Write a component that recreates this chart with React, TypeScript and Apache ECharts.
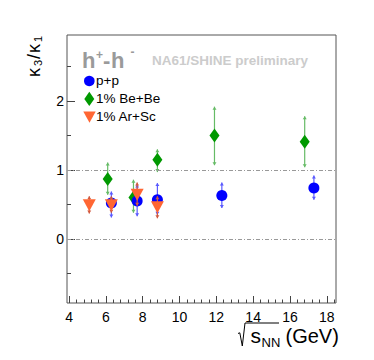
import React, { useEffect, useRef } from "react";
import * as echarts from "echarts";

// ---- data ----
const ppX = [6.3, 7.7, 8.8, 12.3, 17.3];
const ppY = [0.52, 0.55, 0.57, 0.63, 0.74];
const ppLo = [0.31, 0.33, 0.35, 0.45, 0.57];
const ppHi = [0.69, 0.79, 0.81, 0.82, 0.92];

const beX = [6.1, 7.5, 8.8, 11.9, 16.8];
const beY = [0.87, 0.6, 1.15, 1.5, 1.41];
const beLo = [0.64, 0.38, 0.97, 1.07, 1.04];
const beHi = [1.11, 0.86, 1.3, 1.92, 1.78];

const arX = [5.1, 6.3, 7.7, 8.8];
const arY = [0.49, 0.49, 0.64, 0.46];
const arLo = [0.37, 0.38, 0.48, 0.3];
const arHi = [0.62, 0.62, 0.82, 0.62];

const xMajorTicks = [4, 6, 8, 10, 12, 14, 16, 18];
const xMinorTicks = [
  4.4, 4.8, 5.2, 5.6, 6.4, 6.8, 7.2, 7.6, 8.4, 8.8, 9.2, 9.6, 10.4, 10.8, 11.2, 11.6,
  12.4, 12.8, 13.2, 13.6, 14.4, 14.8, 15.2, 15.6, 16.4, 16.8, 17.2, 17.6, 18.4,
];
const yMajorTicks = [0, 1, 2];
const yMinorTicks = [-0.5, 0.5, 1.5, 2.5];
const refLines = [0, 1];

const X_MIN = 3.89;
const X_MAX = 18.5;
const Y_MIN = -0.93;
const Y_MAX = 2.96;

const FONT = "Liberation Sans, Arial, Helvetica, sans-serif";
const BLUE = "#0000ff";
const GREEN = "#009900";
const ORANGE = "#ff6633";

function errBars(xs: number[], lo: number[], hi: number[], color: string, z: number) {
  return {
    type: "custom",
    z,
    xAxisIndex: 0,
    yAxisIndex: 0,
    silent: true,
    data: xs.map((x, i) => [x, lo[i], hi[i]]),
    encode: { x: 0, y: [1, 2] },
    renderItem: (_p: any, api: any) => {
      const x = api.value(0);
      const top = api.coord([x, api.value(2)]);
      const bot = api.coord([x, api.value(1)]);
      return {
        type: "group",
        children: [
          {
            type: "line",
            shape: { x1: top[0], y1: top[1], x2: bot[0], y2: bot[1] },
            style: { stroke: color, lineWidth: 1.2 },
          },
          {
            type: "polygon",
            shape: { points: [[top[0] - 2, top[1] + 3], [top[0] + 2, top[1] + 3], [top[0], top[1]]] },
            style: { fill: color },
          },
          {
            type: "polygon",
            shape: { points: [[bot[0] - 2, bot[1] - 3], [bot[0] + 2, bot[1] - 3], [bot[0], bot[1]]] },
            style: { fill: color },
          },
        ],
      };
    },
  };
}

function scatter(name: string, xs: number[], ys: number[], symbol: string, size: any, color: string, z: number, rotate = 0) {
  return {
    name,
    type: "scatter",
    z,
    xAxisIndex: 0,
    yAxisIndex: 0,
    symbol,
    symbolSize: size,
    symbolRotate: rotate,
    itemStyle: { color, opacity: 1 },
    data: xs.map((x, i) => [x, ys[i]]),
  };
}

export default function App() {
  const ref = useRef<HTMLDivElement>(null);
  useEffect(() => {
    document.body.style.margin = "0";
    const chart = echarts.init(ref.current!, null, { renderer: "svg" });
    const grey = "#9a9a9a";
    const tickColor = "#444";
    const option: any = {
      animation: false,
      backgroundColor: "#ffffff",
      grid: {
        left: 67,
        right: 38,
        top: 35,
        bottom: 57,
        show: true,
        borderColor: "#555",
        borderWidth: 1,
        backgroundColor: "transparent",
      },
      xAxis: [
        {
          type: "value",
          position: "bottom",
          min: X_MIN,
          max: X_MAX,
          axisLine: { show: false, onZero: false },
          splitLine: { show: false },
          axisTick: { show: true, inside: true, length: 7, customValues: xMajorTicks, lineStyle: { color: tickColor } },
          axisLabel: { customValues: xMajorTicks, fontSize: 14, color: "#000", margin: 7, fontFamily: FONT },
        },
        {
          type: "value",
          position: "bottom",
          min: X_MIN,
          max: X_MAX,
          axisLine: { show: false, onZero: false },
          splitLine: { show: false },
          axisTick: { show: true, inside: true, length: 3.5, customValues: xMinorTicks, lineStyle: { color: tickColor } },
          axisLabel: { show: false },
        },
      ],
      yAxis: [
        {
          type: "value",
          position: "left",
          min: Y_MIN,
          max: Y_MAX,
          axisLine: { show: false, onZero: false },
          splitLine: { show: false },
          axisTick: { show: true, inside: true, length: 8, customValues: yMajorTicks, lineStyle: { color: tickColor } },
          axisLabel: { customValues: yMajorTicks, fontSize: 14, color: "#000", margin: 3, fontFamily: FONT },
        },
        {
          type: "value",
          position: "left",
          min: Y_MIN,
          max: Y_MAX,
          axisLine: { show: false, onZero: false },
          splitLine: { show: false },
          axisTick: { show: true, inside: true, length: 4, customValues: yMinorTicks, lineStyle: { color: tickColor } },
          axisLabel: { show: false },
        },
      ],
      series: [
        {
          type: "line",
          data: [],
          xAxisIndex: 0,
          yAxisIndex: 0,
          z: 1,
          markLine: {
            silent: true,
            symbol: "none",
            label: { show: false },
            lineStyle: { color: "#999", width: 1, type: [4, 2, 1, 2] },
            data: refLines.map((v) => ({ yAxis: v })),
          },
        },
        errBars(beX, beLo, beHi, "#66bb66", 2),
        scatter("1% Be+Be", beX, beY, "diamond", [10, 14], GREEN, 3),
        errBars(ppX, ppLo, ppHi, "#5a5aff", 4),
        scatter("p+p", ppX, ppY, "circle", 11, BLUE, 5),
        errBars(arX, arLo, arHi, "#d05a40", 6),
        scatter("1% Ar+Sc", arX, arY, "triangle", [13, 12], ORANGE, 7, 180),
      ],
      graphic: [
        // title h+-h-
        { type: "text", x: 82, y: 60.6, style: { text: "h", fontSize: 22, fontWeight: "bold", fill: grey, fontFamily: FONT, verticalAlign: "middle" } },
        { type: "text", x: 96, y: 54.5, style: { text: "+", fontSize: 12, fontWeight: "bold", fill: grey, fontFamily: FONT, verticalAlign: "middle" } },
        { type: "text", x: 103, y: 60.6, style: { text: "-", fontSize: 22, fontWeight: "bold", fill: grey, fontFamily: FONT, verticalAlign: "middle" } },
        { type: "text", x: 111, y: 60.6, style: { text: "h", fontSize: 22, fontWeight: "bold", fill: grey, fontFamily: FONT, verticalAlign: "middle" } },
        { type: "text", x: 130.5, y: 52, style: { text: "-", fontSize: 12, fontWeight: "bold", fill: grey, fontFamily: FONT, verticalAlign: "middle" } },
        { type: "text", x: 152, y: 60.5, style: { text: "NA61/SHINE preliminary", fontSize: 13.5, fontWeight: "bold", fill: "#cccccc", fontFamily: FONT, verticalAlign: "middle" } },
        // legend
        { type: "circle", shape: { cx: 89.3, cy: 81, r: 5.3 }, style: { fill: BLUE } },
        { type: "text", x: 96, y: 80.5, style: { text: "p+p", fontSize: 13.5, fill: "#000", fontFamily: FONT, verticalAlign: "middle" } },
        { type: "polygon", shape: { points: [[89.3, 91.8], [94.3, 98.9], [89.3, 106], [84.3, 98.9]] }, style: { fill: GREEN } },
        { type: "text", x: 96, y: 98.7, style: { text: "1% Be+Be", fontSize: 13.5, fill: "#000", fontFamily: FONT, verticalAlign: "middle" } },
        { type: "polygon", shape: { points: [[83.3, 111.5], [95.7, 111.5], [89.5, 122.7]] }, style: { fill: ORANGE } },
        { type: "text", x: 96, y: 116.3, style: { text: "1% Ar+Sc", fontSize: 13.5, fill: "#000", fontFamily: FONT, verticalAlign: "middle" } },
        // y title (rotated)
        {
          type: "group",
          x: 0,
          y: 77,
          rotation: Math.PI / 2,
          children: [
            { type: "text", x: 0, y: 33.7, style: { text: "κ", fontSize: 18, fill: "#000", fontFamily: FONT, verticalAlign: "middle" } },
            { type: "text", x: 11, y: 38, style: { text: "3", fontSize: 11, fill: "#000", fontFamily: FONT, verticalAlign: "middle" } },
            { type: "text", x: 18, y: 33.7, style: { text: "/", fontSize: 18, fill: "#000", fontFamily: FONT, verticalAlign: "middle" } },
            { type: "text", x: 24, y: 33.7, style: { text: "κ", fontSize: 18, fill: "#000", fontFamily: FONT, verticalAlign: "middle" } },
            { type: "text", x: 35, y: 38, style: { text: "1", fontSize: 11, fill: "#000", fontFamily: FONT, verticalAlign: "middle" } },
          ],
        },
        // x title: radical sign + s_NN (GeV)
        {
          type: "polyline",
          shape: { points: [[238, 333.5], [239.8, 332.8], [242.3, 346], [245, 323], [279, 323]] },
          style: { stroke: "#000", lineWidth: 1, fill: null },
        },
        { type: "text", x: 250.5, y: 335.6, style: { text: "s", fontSize: 21, fill: "#000", fontFamily: FONT, verticalAlign: "middle" } },
        { type: "text", x: 261.5, y: 342.5, style: { text: "NN", fontSize: 13, fill: "#000", fontFamily: FONT, verticalAlign: "middle" } },
        { type: "text", x: 285.5, y: 336, style: { text: "(GeV)", fontSize: 20, fill: "#000", fontFamily: FONT, verticalAlign: "middle" } },
      ],
    };
    chart.setOption(option);
    return () => chart.dispose();
  }, []);
  return <div ref={ref} style={{ width: 374, height: 360 }} />;
}
